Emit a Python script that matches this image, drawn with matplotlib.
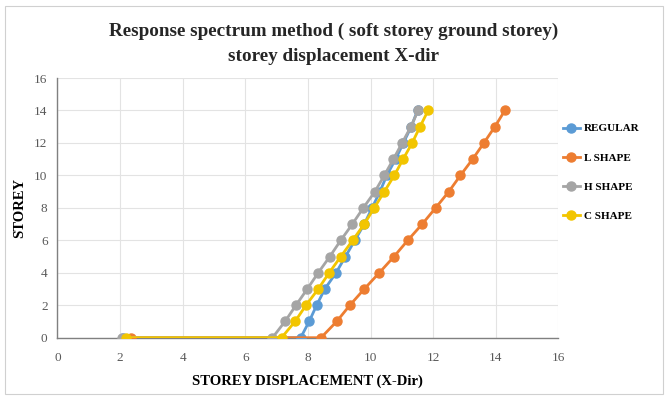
import matplotlib
matplotlib.use("Agg")
import matplotlib.pyplot as plt
from matplotlib.patches import Rectangle

# Storey levels (base point plus storeys 0..14)
storeys = [0, 0, 1, 2, 3, 4, 5, 6, 7, 8, 9, 10, 11, 12, 13, 14]

# Storey displacement in X direction for each building shape
regular = [2.10, 7.77, 8.04, 8.28, 8.54, 8.90, 9.20, 9.50, 9.80, 10.05,
           10.30, 10.52, 10.80, 11.05, 11.30, 11.50]
l_shape = [2.35, 8.42, 8.92, 9.34, 9.80, 10.28, 10.75, 11.19, 11.65, 12.08,
           12.50, 12.87, 13.26, 13.62, 13.97, 14.29]
h_shape = [2.05, 6.87, 7.27, 7.62, 7.98, 8.33, 8.70, 9.05, 9.42, 9.77,
           10.14, 10.44, 10.73, 11.01, 11.29, 11.52]
c_shape = [2.20, 7.16, 7.59, 7.94, 8.33, 8.68, 9.05, 9.43, 9.80, 10.12,
           10.44, 10.76, 11.04, 11.33, 11.58, 11.84]

series = [
    ("REGULAR", regular, "#5B9BD5"),
    ("L SHAPE", l_shape, "#ED7D31"),
    ("H SHAPE", h_shape, "#A5A5A5"),
    ("C SHAPE", c_shape, "#F2C500"),
]

x_ticks = [0, 2, 4, 6, 8, 10, 12, 14, 16]
y_ticks = [0, 2, 4, 6, 8, 10, 12, 14, 16]

serif = ["Liberation Serif", "DejaVu Serif"]

fig = plt.figure(figsize=(6.68, 3.98), dpi=100)
ax = fig.add_axes([0.0858, 0.1515, 0.7502, 0.6525])

for name, vals, col in series:
    ax.plot(vals, storeys, color=col, lw=2.0, marker="o", ms=6.5,
            markeredgecolor=col, label=name, zorder=3)

ax.set_xlim(0, 16)
ax.set_ylim(0, 16)
ax.set_xticks(x_ticks)
ax.set_yticks(y_ticks)
ax.grid(True, color="#E3E3E3", lw=0.8, zorder=0)
ax.set_axisbelow(True)
for side in ("top", "right"):
    ax.spines[side].set_visible(False)
for side in ("left", "bottom"):
    ax.spines[side].set_color("#808080")
    ax.spines[side].set_linewidth(1.0)
ax.tick_params(length=0, labelsize=9.5, labelcolor="#595959")
ax.tick_params(axis="x", pad=10)
ax.tick_params(axis="y", pad=7)
for lab in ax.get_xticklabels() + ax.get_yticklabels():
    lab.set_family(serif)

ax.set_xlabel("STOREY DISPLACEMENT (X-Dir)", fontsize=10.5, fontweight="bold",
              family=serif, labelpad=8)
ax.set_ylabel("STOREY", fontsize=10.5, fontweight="bold", family=serif,
              labelpad=6)

fig.text(0.5, 0.922, "Response spectrum method ( soft storey ground storey)",
         ha="center", va="center", fontsize=13.8, fontweight="bold",
         family=serif, color="#262626")
fig.text(0.5, 0.858, "storey displacement X-dir", ha="center", va="center",
         fontsize=13.8, fontweight="bold", family=serif, color="#262626")

leg = ax.legend(loc="upper left", bbox_to_anchor=(0.995, 0.85), frameon=False,
                prop={"family": serif, "weight": "bold", "size": 8},
                labelspacing=1.75, handlelength=1.6, handletextpad=0.35,
                borderaxespad=0.2)

# Thin chart frame
fig.patches.append(Rectangle((0.008, 0.01), 0.984, 0.975, transform=fig.transFigure,
                             fill=False, edgecolor="#D0D0D0", lw=0.8))

fig.savefig("out.png", dpi=100, facecolor="white")
